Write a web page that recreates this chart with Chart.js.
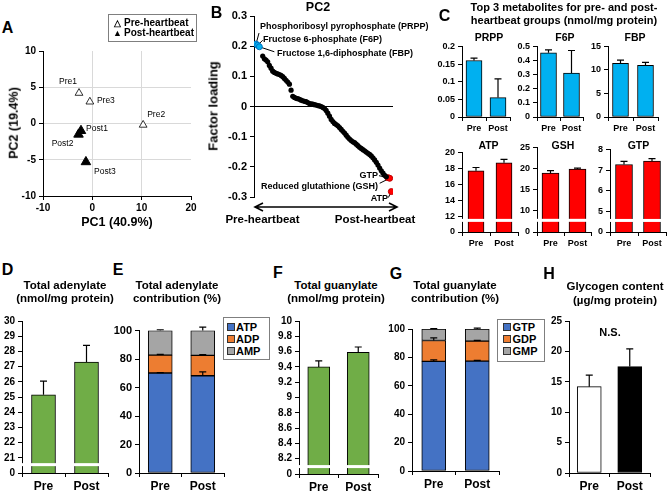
<!DOCTYPE html>
<html>
<head>
<meta charset="utf-8">
<script src="https://cdn.jsdelivr.net/npm/chart.js@4.4.0/dist/chart.umd.min.js"></script>
<style>
  body { margin: 0; background: #fff; }
  #fig { position: relative; width: 668px; height: 492px; overflow: hidden; font-family: "Liberation Sans", Arial, sans-serif; color: #000; }
  #fig canvas { position: absolute; }
  .t { position: absolute; white-space: nowrap; font-weight: bold; line-height: 1; }
  .box { position: absolute; border: 1px solid #7f7f7f; background: #fff; }
  .sw { position: absolute; width: 6px; height: 6px; border: 1px solid #333; }
</style>
</head>
<body>
<div id="fig">
  <canvas id="pca"></canvas>
  <canvas id="loading"></canvas>
  <canvas id="prppChart"></canvas>
  <canvas id="f6pChart"></canvas>
  <canvas id="fbpChart"></canvas>
  <canvas id="atpChart"></canvas>
  <canvas id="gshChart"></canvas>
  <canvas id="gtpChart"></canvas>
  <canvas id="adenChart"></canvas>
  <canvas id="adenPctChart"></canvas>
  <canvas id="guanChart"></canvas>
  <canvas id="guanPctChart"></canvas>
  <canvas id="glycChart"></canvas>
</div>
<script>
// ---- dados ----
const groups = ["Pre", "Post"];

// A: PCA
const preNames = ["Pre1", "Pre2", "Pre3"];
const prePC1 = [-2.7, 10.3, -0.5];
const prePC2 = [4.2, -0.2, 3.0];
const postNames = ["Post1", "Post2", "Post3"];
const postPC1 = [-2.3, -2.8, -1.3];
const postPC2 = [-1.0, -1.5, -5.3];

// B: PC2 factor loadings, sorted
const topNames = ["PRPP", "F6P", "FBP"];
const topLoadings = [0.207, 0.203, 0.198];
const midLoadings = [
  0.167, 0.158, 0.154, 0.148, 0.136, 0.127, 0.117, 0.113, 0.110, 0.108,
  0.106, 0.103, 0.099, 0.093, 0.087, 0.081, 0.074, 0.054, 0.034, 0.030,
  0.027, 0.026, 0.024, 0.021, 0.019, 0.017, 0.016, 0.013, 0.010, 0.009,
  0.008, 0.006, 0.005, 0.003, 0.002, 0.000, -0.003, -0.007, -0.013, -0.022,
  -0.032, -0.043, -0.050, -0.056, -0.060, -0.064, -0.070, -0.076, -0.082, -0.088,
  -0.095, -0.102, -0.108, -0.113, -0.117, -0.120, -0.125, -0.130, -0.135, -0.139,
  -0.143, -0.147, -0.151, -0.155, -0.159, -0.164, -0.170, -0.177, -0.185, -0.194,
  -0.204, -0.213, -0.221, -0.228, -0.233
];
const bottomNames = ["GTP", "GSH", "ATP"];
const bottomLoadings = [-0.236, -0.238, -0.282];

// C: top 3 metabolites (nmol/mg protein)
const prpp = [0.16, 0.055];
const prppErr = [0.007, 0.053];
const f6p = [0.455, 0.311];
const f6pErr = [0.02, 0.16];
const fbp = [11.4, 11.0];
const fbpErr = [0.7, 0.6];
const atp = [17.7, 18.7];
const atpErr = [0.4, 0.43];
const gsh = [18.9, 19.9];
const gshErr = [0.6, 0.2];
const gtp = [7.27, 7.44];
const gtpErr = [0.15, 0.11];

// D/E: adenylate
const adenylate = [25.15, 27.3];
const adenylateErr = [0.9, 1.1];
const pctATP = [70.2, 68.3];
const pctATPErr = [0.3, 2.7];
const pctADP = [12.6, 14.3];
const pctADPErr = [0.5, 0.5];
const pctAMP = [17.2, 17.4];
const pctAMPErr = [0.6, 2.5];

// F/G: guanylate
const guanylate = [9.40, 9.59];
const guanylateErr = [0.08, 0.07];
const pctGTP = [77.2, 77.4];
const pctGTPErr = [1.0, 0.5];
const pctGDP = [14.7, 14.1];
const pctGDPErr = [1.8, 0.5];
const pctGMP = [8.1, 8.5];
const pctGMPErr = [0.3, 0.6];

// H: glycogen
const glycogen = [14.2, 17.5];
const glycogenErr = [1.9, 2.9];

// ---- estilo comum ----
const FONT = "'Liberation Sans', Arial, sans-serif";
Chart.defaults.font.family = FONT;
Chart.defaults.color = "#000";
Chart.defaults.animation = false;

const fig = document.getElementById("fig");

function text(str, x, y, size, opts = {}) {
  const d = document.createElement("div");
  d.className = "t";
  d.textContent = str;
  d.style.left = x + "px";
  d.style.top = y + "px";
  d.style.fontSize = size + "px";
  if (opts.normal) d.style.fontWeight = "normal";
  let tf = "translate(-50%,-50%)";
  if (opts.align === "l") tf = "translate(0,-50%)";
  if (opts.align === "r") tf = "translate(-100%,-50%)";
  if (opts.rot) tf += " rotate(-90deg)";
  d.style.transform = tf;
  fig.appendChild(d);
}

function div(cls, x, y, w, h, bg) {
  const d = document.createElement("div");
  d.className = cls;
  d.style.left = x + "px";
  d.style.top = y + "px";
  if (w) d.style.width = w + "px";
  if (h) d.style.height = h + "px";
  if (bg) d.style.background = bg;
  fig.appendChild(d);
}

// posiciona o canvas para que a área do gráfico caia em l,t,r,b
function place(id, box) {
  const c = document.getElementById(id);
  c.width = box.r - box.l + box.padL + box.padR;
  c.height = box.b - box.t + box.padT + box.padB;
  c.style.left = box.l - box.padL + "px";
  c.style.top = box.t - box.padT + "px";
  return c;
}

function layoutFor(box) {
  return { autoPadding: false, padding: { top: box.padT, right: box.padR, left: 0, bottom: 0 } };
}

// barras de erro (só para cima) e quebra de eixo
const errorBars = {
  id: "errorBars",
  afterDraw(chart, args, opts) {
    const ctx = chart.ctx;
    const y = chart.scales.y;
    ctx.save();
    ctx.strokeStyle = "#000";
    ctx.lineWidth = 1.2;
    chart.data.datasets.forEach((ds, di) => {
      if (!ds.errors) return;
      chart.getDatasetMeta(di).data.forEach((bar, i) => {
        const len = Math.abs(y.getPixelForValue(y.min + ds.errors[i]) - y.getPixelForValue(y.min));
        const top = bar.y - len;
        ctx.beginPath();
        ctx.moveTo(bar.x, bar.y);
        ctx.lineTo(bar.x, top);
        ctx.moveTo(bar.x - 3.5, top);
        ctx.lineTo(bar.x + 3.5, top);
        ctx.stroke();
      });
    });
    if (opts.breakAt != null) {
      const py = y.getPixelForValue(opts.breakAt);
      const a = chart.chartArea;
      ctx.fillStyle = "#fff";
      ctx.fillRect(a.left - 5, py - 1.5, a.right - a.left + 5, 3);
    }
    ctx.restore();
  }
};

function fmt(v) {
  return String(+v.toFixed(2));
}

function barChart(id, box, o) {
  const cv = place(id, box);
  return new Chart(cv, {
    type: "bar",
    data: { labels: groups, datasets: o.datasets },
    options: {
      responsive: false,
      devicePixelRatio: 1,
      layout: layoutFor(box),
      plugins: { legend: { display: false }, tooltip: { enabled: false }, errorBars: { breakAt: o.breakAt } },
      scales: {
        x: {
          stacked: !!o.stacked,
          grid: { offset: true, drawOnChartArea: false, color: "#000", tickLength: 4 },
          border: { color: "#000" },
          ticks: { font: { size: o.labelSize, weight: "bold" }, padding: 2, maxRotation: 0, minRotation: 0, autoSkip: false },
          afterFit: (s) => { s.height = box.padB; }
        },
        y: {
          stacked: !!o.stacked,
          min: o.min,
          max: o.max,
          beginAtZero: false,
          grid: { drawOnChartArea: false, color: "#000", tickLength: 4 },
          border: { color: "#000" },
          ticks: {
            stepSize: o.step,
            autoSkip: false,
            padding: 3,
            font: { size: o.tickSize, weight: "bold" },
            callback: (v) => (o.broken && v === o.min ? "0" : fmt(v))
          },
          afterFit: (s) => { s.width = box.padL; }
        }
      }
    },
    plugins: [errorBars]
  });
}

function simple(data, errors, color) {
  return [{ data, errors, backgroundColor: color, borderColor: "#000", borderWidth: 1, borderSkipped: false }];
}

function withThickness(sets, w) {
  sets.forEach((s) => { s.barThickness = w; });
  return sets;
}

// ---- A: PCA ----
const pointNames = {
  id: "pointNames",
  afterDatasetsDraw(chart, args, opts) {
    const ctx = chart.ctx;
    ctx.save();
    ctx.font = "8.5px " + FONT;
    ctx.fillStyle = "#000";
    ctx.textAlign = "center";
    ctx.textBaseline = "middle";
    chart.data.datasets.forEach((ds, di) => {
      chart.getDatasetMeta(di).data.forEach((pt, i) => {
        const off = opts.offsets[ds.names[i]];
        ctx.fillText(ds.names[i], pt.x + off[0], pt.y + off[1]);
      });
    });
    ctx.restore();
  }
};

const boxA = { l: 43, t: 51, r: 191, b: 196, padL: 43, padT: 11, padR: 9, padB: 20 };
new Chart(place("pca", boxA), {
  type: "scatter",
  data: {
    datasets: [
      {
        names: preNames,
        data: prePC1.map((x, i) => ({ x, y: prePC2[i] })),
        pointStyle: "triangle", radius: 4.5,
        backgroundColor: "#fff", borderColor: "#000", borderWidth: 0.8
      },
      {
        names: postNames,
        data: postPC1.map((x, i) => ({ x, y: postPC2[i] })),
        pointStyle: "triangle", radius: 5.5,
        backgroundColor: "#000", borderColor: "#000", borderWidth: 1
      }
    ]
  },
  options: {
    responsive: false,
    devicePixelRatio: 1,
    layout: layoutFor(boxA),
    plugins: {
      legend: { display: false },
      tooltip: { enabled: false },
      pointNames: {
        offsets: {
          Pre1: [-11, -11], Pre2: [13, -10], Pre3: [16, -1],
          Post1: [16, -2], Post2: [-16, 9], Post3: [19, 10]
        }
      }
    },
    scales: {
      x: {
        min: -10, max: 20,
        grid: {
          color: (c) => (c.tick && (c.tick.value === 0 || c.tick.value === 10) ? "#d9d9d9" : "rgba(0,0,0,0)"),
          tickColor: "#000", tickLength: 4
        },
        border: { color: "#000" },
        ticks: { stepSize: 10, font: { size: 10, weight: "bold" }, padding: 2, maxRotation: 0 },
        afterFit: (s) => { s.height = boxA.padB; }
      },
      y: {
        min: -10, max: 10,
        grid: {
          color: (c) => (c.tick && Math.abs(c.tick.value) === 5 || (c.tick && c.tick.value === 0) ? "#d9d9d9" : "rgba(0,0,0,0)"),
          tickColor: "#000", tickLength: 4
        },
        border: { color: "#000" },
        ticks: { stepSize: 5, font: { size: 10, weight: "bold" }, padding: 3 },
        afterFit: (s) => { s.width = boxA.padL; }
      }
    }
  },
  plugins: [pointNames]
});

// ---- B: factor loading ----
const loadingMarks = {
  id: "loadingMarks",
  beforeDatasetsDraw(chart, args, opts) {
    const ctx = chart.ctx;
    ctx.save();
    ctx.strokeStyle = "#000";
    ctx.lineWidth = 1;
    opts.leaders.forEach(([di, i, dx, dy]) => {
      const pt = chart.getDatasetMeta(di).data[i];
      ctx.beginPath();
      ctx.moveTo(pt.x, pt.y);
      ctx.lineTo(pt.x + dx, pt.y + dy);
      ctx.stroke();
    });
    ctx.restore();
  },
  afterDraw(chart, args, opts) {
    const ctx = chart.ctx;
    const a = chart.chartArea;
    const y = a.bottom + opts.arrowGap;
    const x0 = a.left + 1;
    const x1 = a.right + 4;
    ctx.save();
    ctx.strokeStyle = "#000";
    ctx.lineWidth = 1.6;
    ctx.beginPath();
    ctx.moveTo(x0, y); ctx.lineTo(x1, y);
    ctx.moveTo(x0 + 8, y - 4); ctx.lineTo(x0, y); ctx.lineTo(x0 + 8, y + 4);
    ctx.moveTo(x1 - 8, y - 4); ctx.lineTo(x1, y); ctx.lineTo(x1 - 8, y + 4);
    ctx.stroke();
    ctx.restore();
  }
};

const boxB = { l: 254, t: 16, r: 393, b: 197, padL: 40, padT: 10, padR: 8, padB: 16 };
new Chart(place("loading", boxB), {
  type: "scatter",
  data: {
    datasets: [
      {
        data: midLoadings.map((v, i) => ({ x: i + 4, y: v })),
        radius: 2.6, backgroundColor: "#000", borderColor: "#000", borderWidth: 0
      },
      {
        data: topLoadings.map((v, i) => ({ x: i, y: v })),
        radius: 3, backgroundColor: "#00B0F0", borderColor: "#0070C0", borderWidth: 1
      },
      {
        data: bottomLoadings.map((v, i) => ({ x: i + 79, y: v })),
        radius: 3, backgroundColor: "#FF0000", borderColor: "#C00000", borderWidth: 1
      }
    ]
  },
  options: {
    responsive: false,
    devicePixelRatio: 1,
    layout: layoutFor(boxB),
    plugins: {
      legend: { display: false },
      tooltip: { enabled: false },
      loadingMarks: {
        arrowGap: 10,
        leaders: [[1, 0, 3, -11], [1, 1, 5, -5], [1, 2, 15, 5], [2, 0, -9, -2], [2, 1, -10, 5], [2, 2, -3, 6]]
      }
    },
    scales: {
      x: {
        min: -1.2, max: 82,
        grid: { display: false },
        border: { display: false },
        ticks: { display: false },
        afterFit: (s) => { s.height = boxB.padB; }
      },
      y: {
        min: -0.3, max: 0.3,
        grid: {
          color: (c) => (c.tick && Math.abs(c.tick.value) < 1e-9 ? "#000" : "rgba(0,0,0,0)"),
          tickColor: "#000", tickLength: 4
        },
        border: { color: "#000" },
        ticks: { stepSize: 0.1, font: { size: 11, weight: "bold" }, padding: 3, callback: (v) => fmt(v) },
        afterFit: (s) => { s.width = boxB.padL; }
      }
    }
  },
  plugins: [loadingMarks]
});

// ---- C: top 3 metabolites ----
const BLUE = "#00B0F0";
const RED = "#FF0000";
const cSmall = { labelSize: 9, tickSize: 9 };
barChart("prppChart", { l: 462, t: 42, r: 510, b: 117, padL: 30, padT: 4, padR: 2, padB: 16 },
  { ...cSmall, min: 0, max: 0.2, step: 0.05, datasets: withThickness(simple(prpp, prppErr, BLUE), 16) });
barChart("f6pChart", { l: 537, t: 42, r: 583, b: 117, padL: 24, padT: 4, padR: 2, padB: 16 },
  { ...cSmall, min: 0, max: 0.5, step: 0.1, datasets: withThickness(simple(f6p, f6pErr, BLUE), 16) });
barChart("fbpChart", { l: 608, t: 42, r: 658, b: 117, padL: 22, padT: 4, padR: 2, padB: 16 },
  { ...cSmall, min: 0, max: 15, step: 5, datasets: withThickness(simple(fbp, fbpErr, BLUE), 16) });
barChart("atpChart", { l: 462, t: 148, r: 518, b: 232, padL: 24, padT: 4, padR: 2, padB: 16 },
  { ...cSmall, min: 10, max: 20, step: 2, broken: true, breakAt: 11.46, datasets: withThickness(simple(atp, atpErr, RED), 16) });
barChart("gshChart", { l: 537, t: 143, r: 591, b: 232, padL: 24, padT: 4, padR: 2, padB: 16 },
  { ...cSmall, min: 5, max: 25, step: 5, broken: true, breakAt: 7.76, datasets: withThickness(simple(gsh, gshErr, RED), 17) });
barChart("gtpChart", { l: 610, t: 145, r: 666, b: 232, padL: 22, padT: 4, padR: 2, padB: 16 },
  { ...cSmall, min: 4, max: 8, step: 1, broken: true, breakAt: 4.56, datasets: withThickness(simple(gtp, gtpErr, RED), 17) });

// ---- D-H ----
const GREEN = "#70AD47";
const NUC_BLUE = "#4472C4";
const NUC_ORANGE = "#ED7D31";
const NUC_GRAY = "#A5A5A5";

function stackSet(data, errors, color) {
  return { data, errors, backgroundColor: color, borderColor: "#000", borderWidth: 1, borderSkipped: false, barThickness: 24 };
}

barChart("adenChart", { l: 22, t: 318, r: 108, b: 473, padL: 22, padT: 6, padR: 2, padB: 19 },
  { labelSize: 12, tickSize: 10, min: 20, max: 30, step: 1, broken: true, breakAt: 20.55,
    datasets: withThickness(simple(adenylate, adenylateErr, GREEN), 24) });

barChart("adenPctChart", { l: 139, t: 327, r: 224, b: 473, padL: 30, padT: 6, padR: 2, padB: 19 },
  { labelSize: 12, tickSize: 11, min: 0, max: 100, step: 20, stacked: true,
    datasets: [stackSet(pctATP, pctATPErr, NUC_BLUE), stackSet(pctADP, pctADPErr, NUC_ORANGE), stackSet(pctAMP, pctAMPErr, NUC_GRAY)] });

barChart("guanChart", { l: 299, t: 318, r: 378, b: 474, padL: 28, padT: 6, padR: 2, padB: 19 },
  { labelSize: 12, tickSize: 10, min: 8, max: 10, step: 0.2, broken: true, breakAt: 8.097,
    datasets: withThickness(simple(guanylate, guanylateErr, GREEN), 22) });

barChart("guanPctChart", { l: 412, t: 326, r: 499, b: 471, padL: 30, padT: 6, padR: 2, padB: 19 },
  { labelSize: 12, tickSize: 10, min: 0, max: 100, step: 20, stacked: true,
    datasets: [stackSet(pctGTP, pctGTPErr, NUC_BLUE), stackSet(pctGDP, pctGDPErr, NUC_ORANGE), stackSet(pctGMP, pctGMPErr, NUC_GRAY)] });

const glycSet = withThickness(simple(glycogen, glycogenErr, ["#fff", "#000"]), 24);
barChart("glycChart", { l: 569, t: 318, r: 650, b: 473, padL: 24, padT: 6, padR: 2, padB: 19 },
  { labelSize: 12, tickSize: 10, min: 0, max: 25, step: 5, datasets: glycSet });

// ---- textos ----
// letras dos painéis
text("A", 7.5, 27.5, 16);
text("B", 216.5, 13, 16);
text("C", 444.5, 16, 16);
text("D", 7.5, 269.5, 16);
text("E", 118, 269.5, 16);
text("F", 278, 272.5, 16);
text("G", 396, 273.5, 16);
text("H", 549, 273.5, 16);

// A
div("box", 108, 14, 87, 26);
text("\u25B3", 117.5, 22.5, 9);
text("Pre-heartbeat", 124, 22.5, 10, { align: "l" });
text("\u25B2", 117.5, 32.5, 9);
text("Post-heartbeat", 124, 32.5, 10, { align: "l" });
text("PC1 (40.9%)", 117, 222, 12.5);
text("PC2 (19.4%)", 14, 123, 12.5, { rot: true });

// B
text("PC2", 318, 7, 12.5);
text("Factor loading", 213, 106, 13, { rot: true });
text("Phosphoribosyl pyrophosphate (PRPP)", 260, 25.5, 9, { align: "l" });
text("Fructose 6-phosphate (F6P)", 263, 39, 9, { align: "l" });
text("Fructose 1,6-diphosphate (FBP)", 277, 53, 9, { align: "l" });
text("GTP", 378, 175, 9, { align: "r" });
text("Reduced glutathione (GSH)", 378, 186, 9, { align: "r" });
text("ATP", 388, 197.5, 9, { align: "r" });
text("Pre-heartbeat", 262.5, 220, 11.5);
text("Post-heartbeat", 375, 220, 11.5);

// C
text("Top 3 metabolites for pre- and post-", 564, 7, 11);
text("heartbeat groups (nmol/mg protein)", 564, 20, 11);
text("PRPP", 489, 37, 10.5);
text("F6P", 565, 37, 10.5);
text("FBP", 635, 37, 10.5);
text("ATP", 488.5, 145, 10.5);
text("GSH", 563, 145, 10.5);
text("GTP", 638.5, 145, 10.5);

// D-H
text("Total adenylate", 65, 286, 11.5);
text("(nmol/mg protein)", 65, 299.3, 11.5);
text("Total adenylate", 177, 286, 11.5);
text("contribution (%)", 177, 299.3, 11.5);
text("Total guanylate", 336, 286, 11.5);
text("(nmol/mg protein)", 336, 299.3, 11.5);
text("Total guanylate", 455, 286, 11.5);
text("contribution (%)", 455, 299.3, 11.5);
text("Glycogen content", 615, 287.3, 11.5);
text("(\u00B5g/mg protein)", 615, 300.7, 11.5);
text("N.S.", 610, 332, 11);

// legendas E e G
div("box", 223, 317, 45, 41);
[["ATP", NUC_BLUE, 326.7], ["ADP", NUC_ORANGE, 339], ["AMP", NUC_GRAY, 350.5]].forEach(([n, c, y]) => {
  div("sw", 226.5, y - 4, 0, 0, c);
  text(n, 236, y, 11, { align: "l" });
});
div("box", 497, 319, 46, 41);
[["GTP", NUC_BLUE, 326.7], ["GDP", NUC_ORANGE, 339], ["GMP", NUC_GRAY, 350.5]].forEach(([n, c, y]) => {
  div("sw", 503, y - 4, 0, 0, c);
  text(n, 512.5, y, 11, { align: "l" });
});
</script>
</body>
</html>
